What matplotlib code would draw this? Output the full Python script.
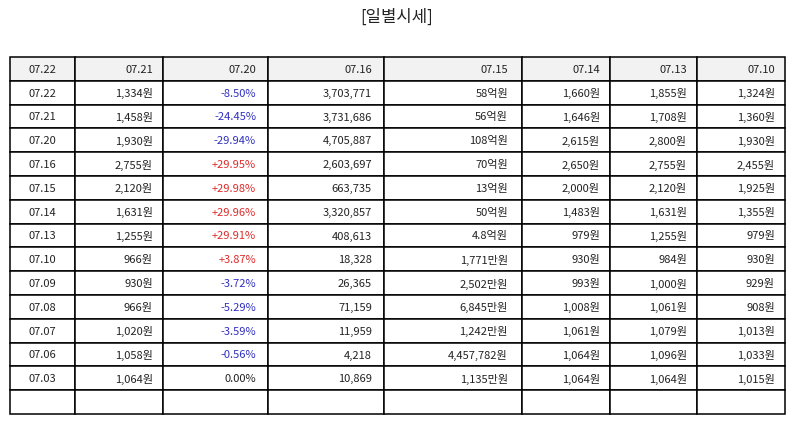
import matplotlib.pyplot as plt

plt.rcParams['font.family'] = ['Noto Sans CJK KR', 'DejaVu Sans']

title = '[일별시세]'
header = ['07.22', '07.21', '07.20', '07.16', '07.15', '07.14', '07.13', '07.10']

dates = ['07.22', '07.21', '07.20', '07.16', '07.15', '07.14', '07.13',
         '07.10', '07.09', '07.08', '07.07', '07.06', '07.03']
close = ['1,334원', '1,458원', '1,930원', '2,755원', '2,120원', '1,631원', '1,255원',
         '966원', '930원', '966원', '1,020원', '1,058원', '1,064원']
change = ['-8.50%', '-24.45%', '-29.94%', '+29.95%', '+29.98%', '+29.96%', '+29.91%',
          '+3.87%', '-3.72%', '-5.29%', '-3.59%', '-0.56%', '0.00%']
volume = ['3,703,771', '3,731,686', '4,705,887', '2,603,697', '663,735', '3,320,857',
          '408,613', '18,328', '26,365', '71,159', '11,959', '4,218', '10,869']
amount = ['58억원', '56억원', '108억원', '70억원', '13억원', '50억원', '4.8억원',
          '1,771만원', '2,502만원', '6,845만원', '1,242만원', '4,457,782원', '1,135만원']
open_ = ['1,660원', '1,646원', '2,615원', '2,650원', '2,000원', '1,483원', '979원',
         '930원', '993원', '1,008원', '1,061원', '1,064원', '1,064원']
high = ['1,855원', '1,708원', '2,800원', '2,755원', '2,120원', '1,631원', '1,255원',
        '984원', '1,000원', '1,061원', '1,079원', '1,096원', '1,064원']
low = ['1,324원', '1,360원', '1,930원', '2,455원', '1,925원', '1,355원', '979원',
       '930원', '929원', '908원', '1,013원', '1,033원', '1,015원']

col_px = [65, 88, 105, 116, 138, 88, 87, 88]
pad_px = [0, 10, 12, 12, 14, 10, 10, 10]

rows = [list(r) for r in zip(dates, close, change, volume, amount, open_, high, low)]
rows.append([''] * 8)

fig = plt.figure(figsize=(7.94, 4.25), dpi=100)
ax = fig.add_axes([0, 0, 1, 1])
ax.axis('off')

fig.text(0.5, 1 - 17 / 425, title, ha='center', va='center', fontsize=12, color='#222222')

total = sum(col_px)
widths = [w / total for w in col_px]
tbl = ax.table(cellText=[header] + rows, colWidths=widths, cellLoc='right',
               bbox=[10 / 794, 1 - 414 / 425, 775 / 794, 357 / 425])
tbl.auto_set_font_size(False)
tbl.set_fontsize(8)

for (r, c), cell in tbl.get_celld().items():
    cell.set_edgecolor('black')
    cell.set_linewidth(1.1)
    cell.PAD = pad_px[c] / col_px[c]
    text = cell.get_text()
    text.set_color('#222222')
    text.set_va('center_baseline')
    if c == 0:
        text.set_ha('center')
        cell._loc = 'center'
    if r == 0:
        cell.set_facecolor('#f2f2f2')
    if r > 0 and c == 2 and r - 1 < len(change):
        val = change[r - 1]
        if val.startswith('+'):
            text.set_color('#dd2a2a')
        elif val.startswith('-'):
            text.set_color('#3030c0')

fig.savefig('out.png', dpi=100)
